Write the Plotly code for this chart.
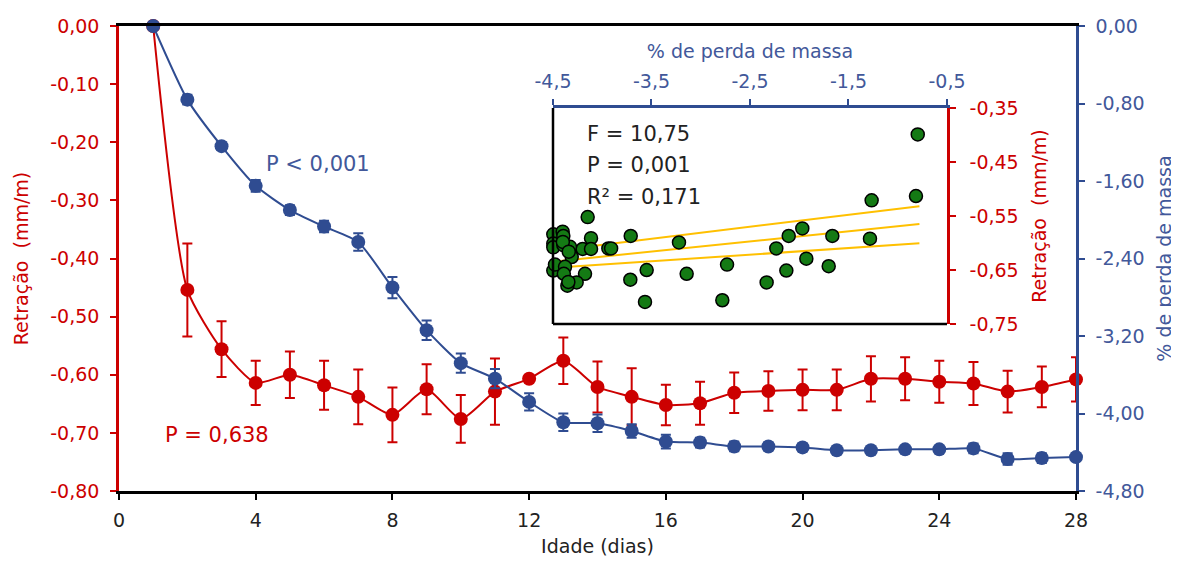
import plotly.graph_objects as go

# ---------------- data ----------------
dias = list(range(1, 29))
retracao = [0.000, -0.454, -0.556, -0.614, -0.600, -0.618, -0.638, -0.669, -0.625, -0.676,
            -0.629, -0.607, -0.576, -0.621, -0.638, -0.652, -0.649, -0.631, -0.628, -0.626,
            -0.626, -0.607, -0.607, -0.612, -0.615, -0.629, -0.621, -0.608]
retracao_err = [0.0, 0.080, 0.048, 0.038, 0.040, 0.042, 0.047, 0.047, 0.043, 0.041,
                0.057, 0.0, 0.040, 0.044, 0.049, 0.035, 0.037, 0.035, 0.034, 0.035,
                0.035, 0.039, 0.037, 0.036, 0.037, 0.036, 0.035, 0.038]
perda = [0.00, -0.76, -1.24, -1.65, -1.90, -2.07, -2.23, -2.70, -3.14, -3.48,
         -3.64, -3.88, -4.09, -4.10, -4.18, -4.29, -4.30, -4.34, -4.34, -4.35,
         -4.38, -4.38, -4.37, -4.37, -4.36, -4.47, -4.46, -4.45]
perda_err = [0.0, 0.05, 0.04, 0.06, 0.05, 0.06, 0.09, 0.11, 0.10, 0.10,
             0.10, 0.09, 0.09, 0.09, 0.07, 0.07, 0.05, 0.05, 0.04, 0.04,
             0.03, 0.03, 0.03, 0.03, 0.05, 0.06, 0.05, 0.04]

# inset scatter: % perda de massa vs retração
inset_x = [-0.797, -0.815, -1.265, -1.282, -1.664, -1.969, -2.107, -2.233, -1.928, -1.701,
           -2.131, -2.331, -2.733, -2.781, -3.221, -3.143, -3.549, -3.566, -3.711, -3.715,
           -3.938, -3.910, -4.148, -4.114, -4.199, -4.114, -4.175, -4.260, -4.354, -4.497,
           -4.497, -4.497, -4.402, -4.395, -4.395, -4.327, -4.310, -4.497, -4.480, -4.378,
           -4.390, -4.344, -4.400, -4.340]
inset_y = [-0.399, -0.513, -0.521, -0.592, -0.587, -0.573, -0.587, -0.610, -0.629, -0.643,
           -0.651, -0.673, -0.640, -0.706, -0.599, -0.657, -0.650, -0.709, -0.587, -0.668,
           -0.610, -0.610, -0.552, -0.591, -0.611, -0.611, -0.657, -0.673, -0.679, -0.584,
           -0.601, -0.608, -0.579, -0.587, -0.604, -0.607, -0.626, -0.651, -0.640, -0.644,
           -0.657, -0.672, -0.598, -0.616]
# regression line and band (slope, intercept) and x-extent
reg_slopes = [0.0222, 0.0188, 0.01225]
reg_intercepts = [-0.5145, -0.550, -0.591]
reg_xrange = [-4.45, -0.78]

# tick labels
x_ticks = [0, 4, 8, 12, 16, 20, 24, 28]
y1_ticks = [0.0, -0.1, -0.2, -0.3, -0.4, -0.5, -0.6, -0.7, -0.8]
y1_text = ["0,00", "-0,10", "-0,20", "-0,30", "-0,40", "-0,50", "-0,60", "-0,70", "-0,80"]
y2_ticks = [0.0, -0.8, -1.6, -2.4, -3.2, -4.0, -4.8]
y2_text = ["0,00", "-0,80", "-1,60", "-2,40", "-3,20", "-4,00", "-4,80"]
x2_ticks = [-4.5, -3.5, -2.5, -1.5, -0.5]
x2_text = ["-4,5", "-3,5", "-2,5", "-1,5", "-0,5"]
y3_ticks = [-0.35, -0.45, -0.55, -0.65, -0.75]
y3_text = ["-0,35", "-0,45", "-0,55", "-0,65", "-0,75"]

RED = "#CC0000"
BLUE = "#2F4C91"
BLUE_T = "#42589A"
GREEN = "#147A14"
ORANGE = "#FFC000"
DARK = "#222222"
FONT = "DejaVu Sans"
FS = 19

fig = go.Figure()

fig.add_trace(go.Scatter(
    x=dias, y=perda, yaxis="y2", mode="lines+markers",
    line=dict(color=BLUE, width=2, shape="spline", smoothing=0.6),
    marker=dict(color=BLUE, size=14),
    error_y=dict(type="data", array=perda_err, color=BLUE, thickness=2, width=5),
    cliponaxis=False, showlegend=False))

fig.add_trace(go.Scatter(
    x=dias, y=retracao, mode="lines+markers",
    line=dict(color=RED, width=2, shape="spline", smoothing=0.6),
    marker=dict(color=RED, size=14),
    error_y=dict(type="data", array=retracao_err, color=RED, thickness=2, width=5),
    cliponaxis=False, showlegend=False))

for s, b in zip(reg_slopes, reg_intercepts):
    fig.add_trace(go.Scatter(
        x=reg_xrange, y=[s * reg_xrange[0] + b, s * reg_xrange[1] + b],
        xaxis="x2", yaxis="y3", mode="lines",
        line=dict(color=ORANGE, width=2), showlegend=False))

fig.add_trace(go.Scatter(
    x=inset_x, y=inset_y, xaxis="x2", yaxis="y3", mode="markers",
    marker=dict(color=GREEN, size=13, line=dict(color="black", width=1.5)),
    cliponaxis=False, showlegend=False))

inset_dom_x = [0.4535, 0.8652]
inset_dom_y = [0.3591, 0.8237]


def f(color, size=FS):
    return dict(family=FONT, size=size, color=color)


fig.update_layout(
    width=1171, height=554,
    margin=dict(l=111, r=103, t=18, b=71, autoexpand=False),
    paper_bgcolor="white", plot_bgcolor="white",
    font=f(DARK),
    xaxis=dict(range=[0, 28], tickvals=x_ticks, ticks="outside", ticklen=6, tickwidth=2,
               tickcolor="black", showline=True, linecolor="black", linewidth=2.5,
               mirror=True, showgrid=False, zeroline=False, automargin=False,
               tickfont=f(DARK), ticklabelstandoff=4,
               title=dict(text="Idade (dias)", font=f(DARK), standoff=11)),
    yaxis=dict(range=[-0.8, 0], tickvals=y1_ticks, ticktext=y1_text, ticks="outside",
               ticklen=6, tickwidth=2, tickcolor=RED, showline=True, linecolor=RED,
               linewidth=2.5, showgrid=False, zeroline=False, automargin=False,
               tickfont=f(RED), ticklabelstandoff=7,
               title=dict(text="Retração  (mm/m)", font=f(RED), standoff=17)),
    yaxis2=dict(range=[-4.8, 0], overlaying="y", side="right", anchor="x",
                tickvals=y2_ticks, ticktext=y2_text, ticks="outside", ticklen=6,
                tickwidth=2, tickcolor=BLUE, showline=True, linecolor=BLUE, linewidth=2.5,
                showgrid=False, zeroline=False, automargin=False,
                tickfont=f(BLUE_T), ticklabelstandoff=7,
                title=dict(text="% de perda de massa", font=f(BLUE_T), standoff=14)),
    xaxis2=dict(domain=inset_dom_x, anchor="y3", side="top", range=[-4.5, -0.5],
                tickvals=x2_ticks, ticktext=x2_text, ticks="outside", ticklen=6, tickwidth=2,
                tickcolor=BLUE, showline=True, linecolor=BLUE, linewidth=2.5,
                showgrid=False, zeroline=False, automargin=False,
                tickfont=f(BLUE_T), ticklabelstandoff=4,
                title=dict(text="% de perda de massa", font=f(BLUE_T), standoff=6)),
    yaxis3=dict(domain=inset_dom_y, anchor="x2", side="right", range=[-0.75, -0.35],
                tickvals=y3_ticks, ticktext=y3_text, ticks="outside", ticklen=6, tickwidth=2,
                tickcolor=RED, showline=True, linecolor=RED, linewidth=2.5,
                showgrid=False, zeroline=False, automargin=False,
                tickfont=f(RED), ticklabelstandoff=10,
                title=dict(text="Retração  (mm/m)", font=f(RED), standoff=15)),
    shapes=[
        dict(type="rect", xref="x2 domain", yref="y3 domain", x0=0, x1=1, y0=0, y1=1,
             fillcolor="#EBEBEB", line=dict(width=0), layer="below"),
        dict(type="line", xref="x2 domain", yref="y3 domain", x0=0, x1=0, y0=0, y1=1,
             line=dict(color="black", width=2.5)),
        dict(type="line", xref="x2 domain", yref="y3 domain", x0=0, x1=1, y0=0, y1=0,
             line=dict(color="black", width=2.5)),
    ],
    annotations=[
        dict(text="P < 0,001", x=4.25, y=-0.237, xref="x", yref="y", showarrow=False,
             xanchor="left", yanchor="middle", font=f(BLUE_T, 21)),
        dict(text="P = 0,638", x=1.3, y=-0.703, xref="x", yref="y", showarrow=False,
             xanchor="left", yanchor="middle", font=f(RED, 21)),
        dict(text="F = 10,75", x=0.08, y=0.88, xref="x2 domain", yref="y3 domain",
             showarrow=False, xanchor="left", yanchor="middle", font=f(DARK, 21)),
        dict(text="P = 0,001", x=0.08, y=0.735, xref="x2 domain", yref="y3 domain",
             showarrow=False, xanchor="left", yanchor="middle", font=f(DARK, 21)),
        dict(text="R² = 0,171", x=0.08, y=0.59, xref="x2 domain", yref="y3 domain",
             showarrow=False, xanchor="left", yanchor="middle", font=f(DARK, 21)),
    ],
)

fig.write_html("out.html")
